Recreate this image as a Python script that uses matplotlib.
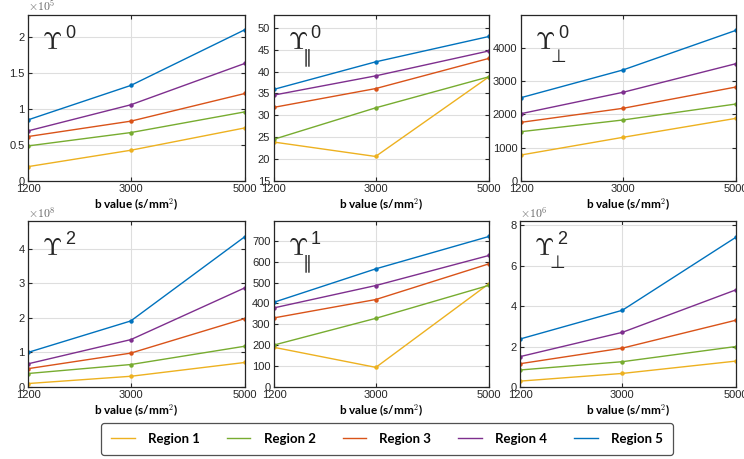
import numpy as np
import matplotlib
matplotlib.use("Agg")
from matplotlib import pyplot as plt

plt.rcParams['font.family'] = ['Liberation Sans', 'DejaVu Sans']
plt.rcParams['mathtext.fontset'] = 'cm'

b_values = [1200, 3000, 5000]
regions = ["Region 1", "Region 2", "Region 3", "Region 4", "Region 5"]
colors = ["#EDB120", "#77AC30", "#D95319", "#7E2F8E", "#0072BD"]

# upsilon^0, scaled by 1e5
ups0 = [[0.199, 0.426, 0.736],
        [0.486, 0.671, 0.958],
        [0.616, 0.829, 1.213],
        [0.694, 1.056, 1.630],
        [0.847, 1.324, 2.097]]
# upsilon^0 parallel
ups0_par = [[23.9, 20.6, 38.8],
            [24.5, 31.7, 38.8],
            [31.8, 36.1, 43.0],
            [34.6, 39.0, 44.7],
            [35.9, 42.2, 48.0]]
# upsilon^0 perpendicular
ups0_perp = [[780, 1310, 1880],
             [1480, 1830, 2310],
             [1760, 2180, 2820],
             [2020, 2660, 3520],
             [2500, 3330, 4520]]
# upsilon^2, scaled by 1e8
ups2 = [[0.10, 0.31, 0.71],
        [0.39, 0.65, 1.18],
        [0.53, 0.98, 1.98],
        [0.67, 1.37, 2.87],
        [1.00, 1.91, 4.35]]
# upsilon^1 parallel
ups1_par = [[190, 94, 495],
            [201, 329, 487],
            [331, 419, 590],
            [379, 486, 630],
            [406, 566, 721]]
# upsilon^2 perpendicular, scaled by 1e6
ups2_perp = [[0.29, 0.67, 1.28],
             [0.84, 1.25, 2.00],
             [1.15, 1.92, 3.30],
             [1.50, 2.70, 4.80],
             [2.37, 3.79, 7.40]]

# data, superscript, subscript, y limits, y ticks, exponent
panels = [
    (ups0, '0', '', (0, 2.3), [0, 0.5, 1, 1.5, 2], '5'),
    (ups0_par, '0', '\u2225', (15, 52.9), [15, 20, 25, 30, 35, 40, 45, 50], None),
    (ups0_perp, '0', '\u22a5', (0, 4980), [0, 1000, 2000, 3000, 4000], None),
    (ups2, '2', '', (0, 4.8), [0, 1, 2, 3, 4], '8'),
    (ups1_par, '1', '\u2225', (0, 795), [0, 100, 200, 300, 400, 500, 600, 700], None),
    (ups2_perp, '2', '\u22a5', (0, 8.2), [0, 2, 4, 6, 8], '6'),
]

# axes boxes in pixels
boxes = [(28, 245, 15, 181), (273.5, 489, 15, 181), (521, 736, 15, 181),
         (28, 245, 221, 387), (274, 489, 221, 387), (520, 736, 221, 387)]
W, H = 744, 459
bold_font = ['Lato', 'DejaVu Sans']

fig = plt.figure(figsize=(7.44, 4.59), dpi=100)
lines = []
for i, (data, sup, sub, ylim, yticks, expo) in enumerate(panels):
    l, r, t, b = boxes[i]
    ax = fig.add_axes([l / W, 1 - b / H, (r - l) / W, (b - t) / H])
    for k in range(5):
        ln, = ax.plot(b_values, data[k], color=colors[k], lw=1.0,
                      marker='o', ms=2.2, label=regions[k])
        if i == 0:
            lines.append(ln)
    ax.set_xlim(1200, 5000)
    ax.set_ylim(*ylim)
    ax.set_xticks(b_values)
    ax.set_yticks(yticks)
    ax.set_yticklabels(['%g' % v for v in yticks])
    ax.grid(True, color='#dedede', lw=0.8)
    ax.set_axisbelow(True)
    ax.tick_params(direction='in', length=3, width=0.8, colors='#262626',
                   labelsize=8, top=True, right=True, pad=2.5)
    for s in ax.spines.values():
        s.set_color('#262626')
        s.set_linewidth(0.9)
    ax.set_xlabel(r'b value (s/mm$^\mathbf{2}$)', fontsize=8.5, fontweight='bold',
                  family=bold_font, labelpad=1.5)
    # Upsilon with its order and direction
    ax.annotate(r'$\Upsilon$', xy=(0, 1), xycoords='axes fraction',
                xytext=(14, -15), textcoords='offset pixels',
                fontsize=18, va='top', ha='left', color='#262626')
    ax.annotate(sup, xy=(0, 1), xycoords='axes fraction',
                xytext=(37, -10), textcoords='offset pixels',
                fontsize=13, va='top', ha='left', color='#262626')
    if sub:
        ax.annotate(sub, xy=(0, 1), xycoords='axes fraction',
                    xytext=(29, -33), textcoords='offset pixels',
                    fontsize=13, va='top', ha='left', color='#262626',
                    family=['DejaVu Sans'])
    if expo:
        ax.text(0.0, 1.005, r'$\times\mathsf{10}^{\mathsf{%s}}$' % expo,
                transform=ax.transAxes, fontsize=8.5, color='#666666',
                va='bottom', ha='left')

leg = fig.legend(handles=lines, labels=regions, ncol=5, loc='lower left',
                 bbox_to_anchor=(101 / W, 1 - 455 / H, 572 / W, 33 / H),
                 mode='expand', borderaxespad=0, frameon=True,
                 prop={'family': bold_font, 'weight': 'bold', 'size': 9.5},
                 handlelength=1.8, handletextpad=1.0, borderpad=0.75,
                 fancybox=True)
leg.get_frame().set_edgecolor('#262626')
leg.get_frame().set_linewidth(0.9)
for h in leg.legend_handles:
    h.set_marker('')

fig.savefig("out.png", dpi=100)
